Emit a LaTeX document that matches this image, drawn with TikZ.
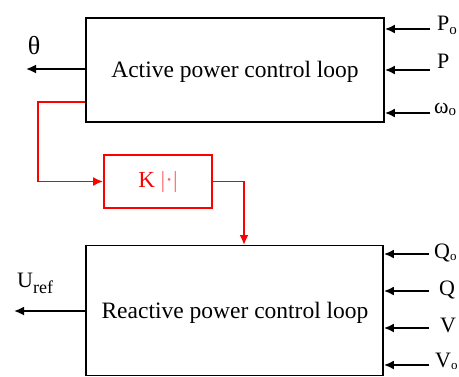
\documentclass[tikz,border=0pt]{standalone}
\usepackage{fontspec}
\setmainfont{Liberation Serif}
\usetikzlibrary{arrows.meta}
\begin{document}
\begin{tikzpicture}[x=1pt,y=-1pt,
  blk/.style={draw,line width=1.8pt,inner sep=0pt},
  redblk/.style={draw=red,line width=1.8pt,inner sep=0pt,text=red,font=\fontsize{23}{27}\selectfont},
  arr/.style={line width=1.8pt,-{Latex[length=10pt,width=9pt]}},
  redarr/.style={arr,draw=red,color=red},
  big/.style={inner sep=0pt,anchor=base,font=\fontsize{23.5}{27}\selectfont},
  lbl/.style={inner sep=0pt,anchor=base west,font=\fontsize{22}{26}\selectfont}]
\useasboundingbox (0,0) rectangle (459,376);
\clip (0,0) rectangle (459,376);
% blocks
\node[blk,minimum width=298pt,minimum height=104pt] (top) at (235,70) {};
\node[big] (toptxt) at (235,77) {Active power control loop};
\node[blk,minimum width=297pt,minimum height=130pt] (bot) at (234.5,310.5) {};
\node[big] (bottxt) at (235,318) {Reactive power control loop};
\node[redblk,minimum width=108pt,minimum height=53pt] (K) at (158,181.5) {K {\color{red!60}|·|}};
% right inputs (top)
\coordinate (iPo) at (430,29);
\coordinate (iP) at (430,70);
\coordinate (iw) at (430,113);
\draw[arr] (iPo) -- (iPo -| top.east);
\draw[arr] (iP) -- (iP -| top.east);
\draw[arr] (iw) -- (iw -| top.east);
\node[lbl] (lPo) at (437,30) {P\raisebox{-4pt}{\fontsize{15}{15}\selectfont o}};
\node[lbl] (lP) at (437,68) {P};
\node[lbl] (lw) at (434,113) {ω\raisebox{-2pt}{\fontsize{15}{15}\selectfont o}};
% right inputs (bottom)
\coordinate (iQo) at (429,254);
\coordinate (iQ) at (429,291);
\coordinate (iV) at (429,328);
\coordinate (iVo) at (429,365);
\draw[arr] (iQo) -- (iQo -| bot.east);
\draw[arr] (iQ) -- (iQ -| bot.east);
\draw[arr] (iV) -- (iV -| bot.east);
\draw[arr] (iVo) -- (iVo -| bot.east);
\node[lbl] (lQo) at (434,258) {Q\raisebox{-2pt}{\fontsize{13}{13}\selectfont o}};
\node[lbl] (lQ) at (439,295) {Q};
\node[lbl] (lV) at (440,332) {V};
\node[lbl] (lVo) at (435,367) {V\raisebox{-2pt}{\fontsize{13}{13}\selectfont o}};
% outputs
\coordinate (oth) at (26,69);
\draw[arr] (oth -| top.west) -- (oth);
\node[inner sep=0pt,font=\fontsize{26}{30}\selectfont] (lth) at (34,46) {θ};
\coordinate (ou) at (14,311);
\draw[arr] (ou -| bot.west) -- (ou);
\node[lbl] (lu) at (17,287) {U\raisebox{-6pt}{\fontsize{18}{18}\selectfont ref}};
% red path
\coordinate (ra) at (38,102);
\draw[redarr] (ra -| top.west) -- (ra) |- (K.west);
\coordinate (rb) at (244,245);
\draw[redarr] (K.east) -| (rb);
\end{tikzpicture}
\end{document}
